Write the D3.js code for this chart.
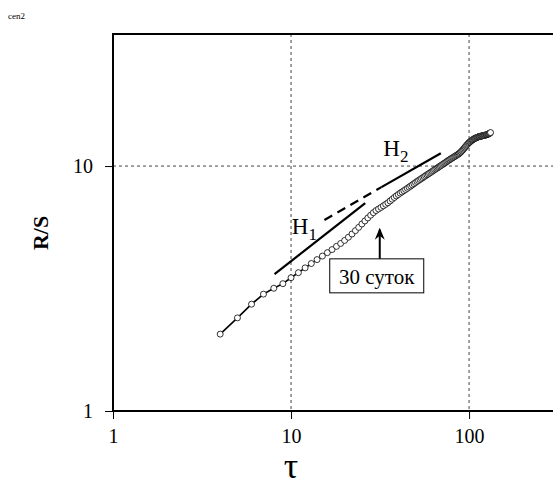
<!DOCTYPE html>
<html><head><meta charset="utf-8">
<script src="https://cdn.jsdelivr.net/npm/d3@7"></script>
<style>body{margin:0;background:#fff}svg{display:block}</style>
</head><body><svg id="c" width="553" height="488"></svg>
<script>
const tauStart = 4;
const rsValues = [2.06,2.40,2.73,3.00,3.17,3.31,3.50,3.67,3.84,4.00,4.15,4.29,4.43,4.56,4.70,4.83,4.97,5.12,5.28,5.45,5.62,5.80,5.97,6.14,6.30,6.45,6.58,6.68,6.78,6.88,6.98,7.08,7.20,7.32,7.44,7.55,7.65,7.75,7.84,7.93,8.02,8.11,8.20,8.29,8.38,8.47,8.56,8.65,8.73,8.81,8.89,8.97,9.05,9.13,9.21,9.28,9.36,9.43,9.51,9.58,9.66,9.73,9.80,9.87,9.94,10.01,10.08,10.15,10.22,10.29,10.36,10.43,10.50,10.57,10.63,10.70,10.76,10.82,10.88,10.94,11.00,11.06,11.12,11.18,11.25,11.33,11.42,11.52,11.62,11.73,11.84,11.95,12.06,12.17,12.27,12.37,12.46,12.54,12.62,12.69,12.76,12.82,12.88,12.93,12.98,13.02,13.06,13.10,13.13,13.16,13.19,13.21,13.23,13.25,13.27,13.29,13.31,13.33,13.35,13.37,13.39,13.41,13.44,13.47,13.50,13.54,13.58,13.63,13.70];
const h1Line = [[8.08,3.62],[26.1,7.06]];
const h2Dashed = [[15.4,6.02],[32.2,8.2]];
const h2Solid = [[32.2,8.2],[69.4,11.27]];
const xTicks = [1,10,100];
const yTicks = [1,10];
const arrowPoint = [31.5, 5.6];
const arrowBase = [31.5, 4.18];
const boxLabel = "30 суток";

const SERIF = '"Liberation Serif"';
const svg = d3.select("#c").style("font-family", SERIF);
const x = d3.scaleLog().domain([1, 320]).range([113, 559]);
const y = d3.scaleLog().domain([1, 34.6]).range([411, 34]);
const data = rsValues.map((v,i)=>[tauStart+i, v]);

svg.append("text").attr("x",8).attr("y",19).style("font-family",SERIF).attr("font-size",9).text("cen2");

// grid
const g = svg.append("g");
g.selectAll(".gx").data([10,100]).enter().append("line")
  .attr("x1",d=>x(d)).attr("x2",d=>x(d)).attr("y1",y(34.6)).attr("y2",y(1))
  .attr("stroke","#444").attr("stroke-width",1).attr("stroke-dasharray","3,3");
g.selectAll(".gy").data([10]).enter().append("line")
  .attr("x1",x(1)).attr("x2",x(320)).attr("y1",d=>y(d)).attr("y2",d=>y(d))
  .attr("stroke","#444").attr("stroke-width",1).attr("stroke-dasharray","3,3");

// axes
const xAxis = d3.axisBottom(x).tickValues(xTicks).tickFormat(d3.format("d")).tickSize(8).tickPadding(10);
const yAxis = d3.axisLeft(y).tickValues(yTicks).tickFormat(d3.format("d")).tickSize(8).tickPadding(12);
const ax = svg.append("g").attr("transform",`translate(0,${y(1)})`).call(xAxis);
const ay = svg.append("g").attr("transform",`translate(${x(1)},0)`).call(yAxis);
[ax,ay].forEach(a=>{
  a.select(".domain").remove();
  a.selectAll("text").style("font-family",SERIF).attr("font-size",20).attr("fill","#000");
  a.selectAll("line").attr("stroke","#000").attr("stroke-width",1);
});
// frame
svg.append("path").attr("d",`M${x(320)},${y(34.6)}H${x(1)}V${y(1)}H${x(320)}`)
  .attr("fill","none").attr("stroke","#000").attr("stroke-width",2);

// data line + circles
const line = d3.line().x(d=>x(d[0])).y(d=>y(d[1]));
svg.append("path").datum(data).attr("d",line).attr("fill","none").attr("stroke","#000").attr("stroke-width",1.6);
svg.selectAll(".pt").data(data).enter().append("circle")
  .attr("cx",d=>x(d[0])).attr("cy",d=>y(d[1])).attr("r",3)
  .attr("fill","#fff").attr("stroke","#000").attr("stroke-width",0.8);

// fit lines
svg.append("path").datum(h1Line).attr("d",line).attr("stroke","#000").attr("stroke-width",2.2).attr("fill","none");
svg.append("path").datum(h2Dashed).attr("d",line).attr("stroke","#000").attr("stroke-width",2.2).attr("fill","none").attr("stroke-dasharray","9,6");
svg.append("path").datum(h2Solid).attr("d",line).attr("stroke","#000").attr("stroke-width",2.2).attr("fill","none");

// H labels
function hLabel(px,py,sub){
  const t = svg.append("text").attr("x",px).attr("y",py).style("font-family",SERIF).attr("font-size",23);
  t.append("tspan").text("H");
  t.append("tspan").attr("dy",6).attr("font-size",17).text(sub);
}
hLabel(x(10.1), y(5.3), "1");
hLabel(x(33.0), y(10.95), "2");

// arrow
svg.append("line").attr("x1",x(arrowBase[0])).attr("x2",x(arrowPoint[0]))
  .attr("y1",y(arrowBase[1])).attr("y2",y(arrowPoint[1])+2).attr("stroke","#000").attr("stroke-width",2);
svg.append("path").attr("d",`M${x(arrowPoint[0])},${y(arrowPoint[1])} l-5,12 l5,-4 l5,4 z`).attr("fill","#000");

// box label
const bx = x(arrowBase[0]);
const by = y(arrowBase[1]);
svg.append("rect").attr("x",bx-50).attr("y",by).attr("width",94).attr("height",34).attr("fill","#fff").attr("stroke","#000").attr("stroke-width",1);
svg.append("text").attr("x",bx-3).attr("y",by+25).attr("text-anchor","middle").style("font-family",SERIF).attr("font-size",21).text(boxLabel);

// axis titles
svg.append("text").attr("transform",`translate(48,${y(5.33)}) rotate(-90)`).attr("text-anchor","middle")
  .style("font-family",SERIF).attr("font-size",22).attr("font-weight","bold").text("R/S");
svg.append("text").attr("x",x(10)).attr("y",478).attr("text-anchor","middle").style("font-family",SERIF).attr("font-size",36).text("τ");
</script></body></html>
